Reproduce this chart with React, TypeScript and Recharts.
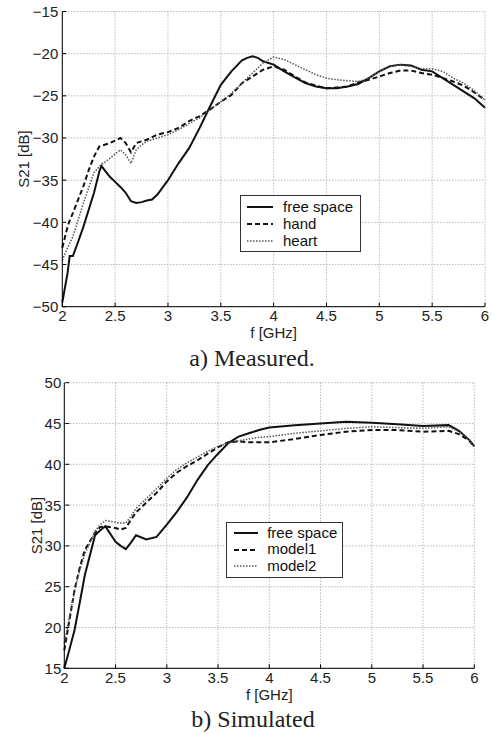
import { LineChart, Line, XAxis, YAxis, CartesianGrid, Legend } from "recharts";

// a) Measured
const FREQ_A = [
  2.0, 2.05, 2.07, 2.1, 2.15, 2.2, 2.25, 2.3, 2.35, 2.37, 2.4, 2.45, 2.5, 2.55, 2.6, 2.65, 2.7, 2.75,
  2.8, 2.85, 2.9, 3.0, 3.1, 3.2, 3.3, 3.4, 3.5, 3.6, 3.7, 3.75, 3.8, 3.85, 3.9, 4.0, 4.1, 4.2, 4.3,
  4.4, 4.5, 4.6, 4.7, 4.8, 4.9, 5.0, 5.1, 5.2, 5.3, 5.4, 5.5, 5.6, 5.7, 5.8, 5.9, 6.0,
];
const FREE_A = [
  -49.5, -46, -44, -44, -42.3, -40.5, -38.5, -36.5, -34, -33.3, -33.8, -34.6, -35.2, -35.8, -36.5, -37.5,
  -37.7, -37.6, -37.4, -37.3, -36.7, -35, -33, -31.2, -28.8, -26.2, -23.7, -22.1, -20.8, -20.5, -20.3,
  -20.5, -20.9, -21.3, -22.1, -22.8, -23.5, -23.9, -24.1, -24.1, -23.9, -23.6, -22.9, -22.1, -21.5,
  -21.3, -21.4, -21.9, -22.1, -22.9, -23.7, -24.5, -25.3, -26.4,
];
const HAND = [
  -43, -40.5, -39.8, -38.9, -37.3, -35.7, -33.8, -32.2, -31, -30.9, -30.8, -30.6, -30.3, -30, -30.6,
  -31.7, -30.6, -30.4, -30.2, -29.9, -29.6, -29.3, -28.8, -28, -27.4, -26.6, -25.7, -24.9, -23.5, -23.1,
  -22.7, -22.3, -21.9, -21.5, -21.9, -22.7, -23.4, -23.8, -24.1, -24, -23.9, -23.4, -23.1, -22.7, -22.3,
  -22, -22, -22.3, -22.5, -22.9, -23.3, -23.8, -24.6, -25.5,
];
const HEART = [
  -44.5, -43, -42.5, -41.7, -39.7, -37.7, -35.9, -34.1, -33.4, -33.1, -32.9, -32.4, -31.9, -31.4, -32,
  -33, -31.4, -30.8, -30.4, -30.2, -30, -29.6, -29, -28.3, -27.6, -26.6, -25.7, -24.7, -23.5, -22.9,
  -22.3, -21.7, -21.1, -20.4, -20.7, -21.3, -21.9, -22.5, -22.9, -23.1, -23.2, -23.3, -22.9, -22.1,
  -21.5, -21.3, -21.5, -21.8, -21.8, -22.1, -22.9, -23.5, -24.4, -25.5,
];

// b) Simulated
const FREQ_B = [
  2.0, 2.05, 2.1, 2.15, 2.2, 2.3, 2.35, 2.4, 2.5, 2.55, 2.6, 2.65, 2.7, 2.8, 2.9, 3.0, 3.1, 3.2, 3.3,
  3.4, 3.5, 3.6, 3.7, 3.8, 3.9, 4.0, 4.25, 4.5, 4.75, 5.0, 5.25, 5.5, 5.75, 5.85, 5.95, 6.0,
];
const FREE_B = [
  15, 17.3, 19.7, 23, 26.4, 31.3, 31.9, 32.4, 30.5, 30, 29.6, 30.4, 31.3, 30.8, 31.1, 32.6, 34.2, 36,
  38.1, 39.9, 41.3, 42.6, 43.4, 43.8, 44.2, 44.5, 44.8, 45, 45.2, 45.1, 44.9, 44.7, 44.8, 44.1, 43, 42.2,
];
const MODEL1 = [
  17.2, 20.9, 24.6, 27.3, 29.5, 31.6, 32.3, 32.4, 32.2, 32, 32.2, 33.2, 34.1, 35.3, 36.5, 37.9, 39,
  39.8, 40.5, 41.3, 42.1, 42.7, 42.8, 42.7, 42.7, 42.7, 43.1, 43.6, 44, 44.2, 44.2, 44, 44.1, 43.7, 42.9, 42.2,
];
const MODEL2 = [
  18, 21.3, 24.5, 27, 29, 31.8, 32.6, 33.1, 32.9, 32.8, 32.8, 33.6, 34.6, 35.8, 37, 38.3, 39.4, 40.2,
  40.9, 41.6, 42.2, 42.6, 42.9, 43.1, 43.3, 43.4, 43.8, 44.1, 44.4, 44.6, 44.5, 44.4, 44.6, 44, 43, 42.2,
];

const X_TICKS = [2, 2.5, 3, 3.5, 4, 4.5, 5, 5.5, 6];
const Y_TICKS_A = [-50, -45, -40, -35, -30, -25, -20, -15];
const Y_TICKS_B = [15, 20, 25, 30, 35, 40, 45, 50];

const dataA = FREQ_A.map((f, i) => ({ f, free: FREE_A[i], hand: HAND[i], heart: HEART[i] }));
const dataB = FREQ_B.map((f, i) => ({ f, free: FREE_B[i], model1: MODEL1[i], model2: MODEL2[i] }));

const SANS = "'Liberation Sans', Arial, Helvetica, sans-serif";
const SERIF = "'Liberation Serif', 'Times New Roman', serif";
const TICK_GAP = 4;

const fmt = (v: number) => String(v).replace("-", "\u2212");

const XTick = (props: any) => {
  const { x, y, payload } = props;
  const axisY = y - TICK_GAP;
  return (
    <g>
      <line x1={x} x2={x} y1={axisY} y2={axisY - 4} stroke="#000" />
      <text x={x} y={y} dy="0.71em" textAnchor="middle" fontSize={15} fontFamily={SANS} fill="#222">
        {fmt(payload.value)}
      </text>
    </g>
  );
};

const YTick = (props: any) => {
  const { x, y, payload } = props;
  const axisX = x + TICK_GAP;
  return (
    <g>
      <line x1={axisX} x2={axisX + 4} y1={y} y2={y} stroke="#000" />
      <text x={x} y={y} dy="0.36em" textAnchor="end" fontSize={15} fontFamily={SANS} fill="#222">
        {fmt(payload.value)}
      </text>
    </g>
  );
};

const yLabel = (cx: number) => (props: any) => {
  const vb = props.viewBox;
  const cy = vb.y + vb.height / 2;
  return (
    <text x={cx} y={cy} transform={`rotate(-90 ${cx} ${cy})`} textAnchor="middle" dominantBaseline="central"
      fontSize={15} fontFamily={SANS} fill="#222">
      S21 [dB]
    </text>
  );
};

const xLabel = (props: any) => {
  const vb = props.viewBox;
  return (
    <text x={vb.x + vb.width / 2} y={vb.y + 26} textAnchor="middle" dominantBaseline="central"
      fontSize={15} fontFamily={SANS} fill="#222">
      f [GHz]
    </text>
  );
};

type Item = { label: string; dash?: string; width: number; color: string };

const legendBox = (items: Item[], w: number, rowH: number, sample: number, padL: number, gap: number) => () => (
  <div
    style={{
      width: w, boxSizing: "border-box", border: "1px solid #333", background: "#fff",
      padding: `2px 0 2px ${padL}px`, fontFamily: SANS, fontSize: 15, color: "#111",
    }}
  >
    {items.map((it) => (
      <div key={it.label} style={{ display: "flex", alignItems: "center", height: rowH }}>
        <svg width={sample} height={6} style={{ marginRight: gap, flex: "none" }}>
          <line x1={0} x2={sample} y1={3} y2={3} stroke={it.color} strokeWidth={it.width} strokeDasharray={it.dash} />
        </svg>
        <span style={{ lineHeight: `${rowH}px`, whiteSpace: "nowrap" }}>{it.label}</span>
      </div>
    ))}
  </div>
);

const SOLID = { color: "#111", width: 2 };
const DASHED = { color: "#111", width: 2, dash: "5 3" };
const DOTTED = { color: "#555", width: 1.5, dash: "1.5 1.5" };

const caption = (text: string, cx: number, cy: number) => (
  <div
    style={{
      position: "absolute", left: cx, top: cy, transform: "translate(-50%, -50%)",
      fontFamily: SERIF, fontSize: 24, color: "#222", whiteSpace: "nowrap",
    }}
  >
    {text}
  </div>
);

export default function App() {
  return (
    <div style={{ position: "absolute", left: 0, top: 0, width: 492, height: 734, background: "#fff" }}>
      <div style={{ position: "absolute", left: 0, top: 0 }}>
        <LineChart width={492} height={345} data={dataA} margin={{ top: 11.5, right: 7, bottom: 8.3, left: 0 }}>
          <CartesianGrid stroke="#999" strokeDasharray="1 2" />
          <XAxis dataKey="f" type="number" domain={[2, 6]} ticks={X_TICKS} interval={0} height={30}
            tickSize={0} tickMargin={TICK_GAP} tickLine={false} axisLine={{ stroke: "#000" }} tick={<XTick />}
            label={xLabel} />
          <YAxis type="number" domain={[-50, -15]} ticks={Y_TICKS_A} interval={0} width={62.3}
            tickSize={0} tickMargin={TICK_GAP} tickLine={false} axisLine={{ stroke: "#000" }} tick={<YTick />}
            label={yLabel(24)} />
          <Legend layout="vertical" align="center" verticalAlign="middle" wrapperStyle={{ left: 240, top: 195, width: "auto" }}
            content={legendBox([
              { label: "free space", ...SOLID },
              { label: "hand", ...DASHED },
              { label: "heart", ...DOTTED },
            ], 121, 17, 26, 6, 10)} />
          <Line name="free space" dataKey="free" type="linear" stroke={SOLID.color} strokeWidth={SOLID.width}
            dot={false} isAnimationActive={false} />
          <Line name="hand" dataKey="hand" type="linear" stroke={DASHED.color} strokeWidth={DASHED.width}
            strokeDasharray={DASHED.dash} dot={false} isAnimationActive={false} />
          <Line name="heart" dataKey="heart" type="linear" stroke={DOTTED.color} strokeWidth={DOTTED.width}
            strokeDasharray={DOTTED.dash} dot={false} isAnimationActive={false} />
        </LineChart>
      </div>
      {caption("a) Measured.", 252, 358)}
      <div style={{ position: "absolute", left: 0, top: 345 }}>
        <LineChart width={492} height={389} data={dataB} margin={{ top: 37.7, right: 17.7, bottom: 35.7, left: 0 }}>
          <CartesianGrid stroke="#999" strokeDasharray="1 2" />
          <XAxis dataKey="f" type="number" domain={[2, 6]} ticks={X_TICKS} interval={0} height={30}
            tickSize={0} tickMargin={TICK_GAP} tickLine={false} axisLine={{ stroke: "#000" }} tick={<XTick />}
            label={xLabel} />
          <YAxis type="number" domain={[15, 50]} ticks={Y_TICKS_B} interval={0} width={64.3}
            tickSize={0} tickMargin={TICK_GAP - 1} tickLine={false} axisLine={{ stroke: "#000" }} tick={<YTick />}
            label={yLabel(36)} />
          <Legend layout="vertical" align="center" verticalAlign="middle" wrapperStyle={{ left: 225.7, top: 176.7, width: "auto" }}
            content={legendBox([
              { label: "free space", ...SOLID },
              { label: "model1", ...DASHED },
              { label: "model2", ...DOTTED },
            ], 117, 16.7, 24, 7, 9.5)} />
          <Line name="free space" dataKey="free" type="linear" stroke={SOLID.color} strokeWidth={SOLID.width}
            dot={false} isAnimationActive={false} />
          <Line name="model1" dataKey="model1" type="linear" stroke={DASHED.color} strokeWidth={DASHED.width}
            strokeDasharray={DASHED.dash} dot={false} isAnimationActive={false} />
          <Line name="model2" dataKey="model2" type="linear" stroke={DOTTED.color} strokeWidth={DOTTED.width}
            strokeDasharray={DOTTED.dash} dot={false} isAnimationActive={false} />
        </LineChart>
      </div>
      {caption("b) Simulated", 253, 719)}
    </div>
  );
}
